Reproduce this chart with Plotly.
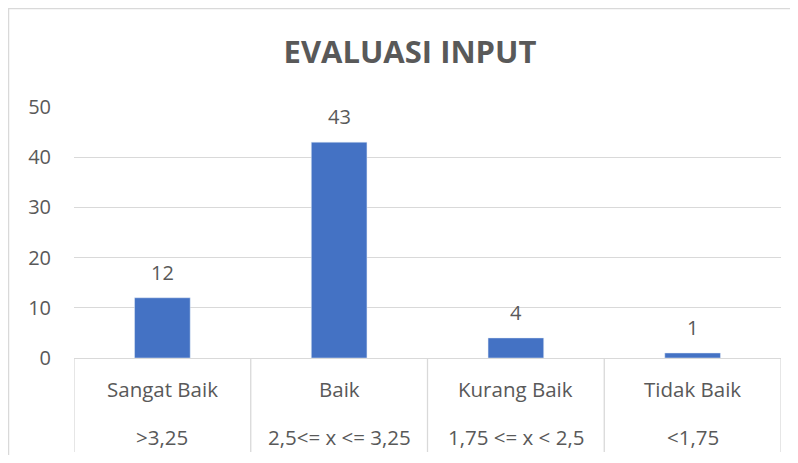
import plotly.graph_objects as go

categories = ["Sangat Baik", "Baik", "Kurang Baik", "Tidak Baik"]
ranges = [">3,25", "2,5<= x <= 3,25", "1,75 <= x < 2,5", "<1,75"]
values = [12, 43, 4, 1]
title_text = "EVALUASI INPUT"
y_ticks = [0, 10, 20, 30, 40, 50]

BAR = "#4472C4"
TXT = "#595959"
GRID = "#D9D9D9"
FONT = "Open Sans"

OFF = 8  # page body margin
W, H = 798 - 2 * OFF, 463 - 2 * OFF
L, T = 74 - OFF, 107 - OFF
R = W - (781 - OFF)
B = H - (358 - OFF)
pw, ph = W - L - R, H - T - B

fig = go.Figure()
fig.add_trace(go.Bar(x=categories, y=values, marker_color=BAR, width=0.315,
                     hoverinfo="skip"))

ann = []
for c, v in zip(categories, values):
    ann.append(dict(x=c, y=v, xref="x", yref="y", text=str(v), showarrow=False,
                    yanchor="bottom", yshift=10, font=dict(family=FONT, size=20, color=TXT)))
for c, r in zip(categories, ranges):
    ann.append(dict(x=c, y=0, xref="x", yref="paper", text=c, showarrow=False,
                    yanchor="middle", yshift=-31, font=dict(family=FONT, size=20.5, color=TXT)))
    ann.append(dict(x=c, y=0, xref="x", yref="paper", text=r, showarrow=False,
                    yanchor="middle", yshift=-79, font=dict(family=FONT, size=20.5, color=TXT)))

shapes = []
for i in range(len(categories) + 1):
    xv = i - 0.5
    shapes.append(dict(type="line", xref="x", yref="paper", x0=xv, x1=xv,
                       y0=0, y1=-94 / ph, line=dict(color=GRID, width=1.3)))
# chart border (left and top edges visible; right/bottom run off the picture)
shapes.append(dict(type="rect", xref="paper", yref="paper",
                   x0=(0.5 - L) / pw, x1=(W + 10 - L) / pw,
                   y0=(-B - 10) / ph, y1=(H - B - 0.5) / ph,
                   line=dict(color=GRID, width=1.5), fillcolor="rgba(0,0,0,0)", layer="below"))

fig.update_layout(
    width=W, height=H,
    margin=dict(l=L, r=R, t=T, b=B, autoexpand=False),
    paper_bgcolor="white", plot_bgcolor="white",
    showlegend=False,
    title=dict(text="<b>" + title_text + "</b>", x=(410 - OFF) / W, xanchor="center",
               y=1 - (52 - OFF) / H, yanchor="middle",
               font=dict(family=FONT, size=31, color=TXT)),
    annotations=ann, shapes=shapes,
)
fig.update_xaxes(range=[-0.5, 3.5], showticklabels=False, showline=True,
                 linecolor=GRID, linewidth=1.3, ticks="", showgrid=False, fixedrange=True)
fig.update_yaxes(range=[0, 50], tickvals=y_ticks, showgrid=True, gridcolor=GRID,
                 gridwidth=1.3, zeroline=False, showline=False,
                 tickfont=dict(family=FONT, size=20, color=TXT),
                 ticklabelstandoff=22, fixedrange=True)

fig.write_html("out.html")
